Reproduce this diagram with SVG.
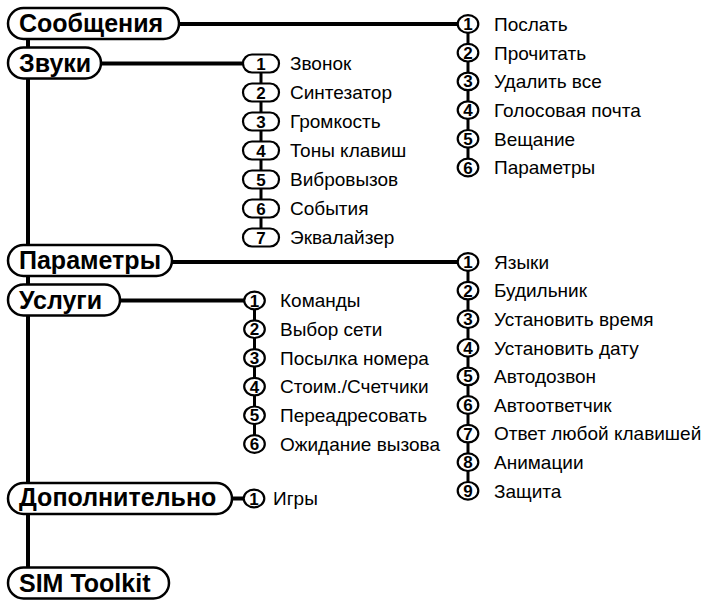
<svg xmlns="http://www.w3.org/2000/svg" width="706" height="600" viewBox="0 0 706 600">
<style>
.pill{fill:#fff;stroke:#000;stroke-width:2.5}
.c{fill:#fff;stroke:#000;stroke-width:2.2}
.conn{stroke:#000;stroke-width:4;fill:none}
.v{stroke:#000;stroke-width:3;fill:none}
.h{font-family:"Liberation Sans",Arial,sans-serif;font-weight:bold;font-size:25px;fill:#000}
.n{font-family:"Liberation Sans",Arial,sans-serif;font-weight:bold;font-size:17px;text-anchor:middle;fill:#000}
.l{font-family:"Liberation Sans",Arial,sans-serif;font-size:19px;fill:#000}
</style>
<rect width="706" height="600" fill="#fff"/>
<g id="connectors">
<path class="conn" d="M28 40V568"/>
<path class="conn" d="M179 24H459"/>
<path class="conn" d="M101 63.5H243"/>
<path class="conn" d="M172 262H459"/>
<path class="conn" d="M120 300.5H245"/>
<path class="conn" d="M231 498.5H245"/>
<path class="v" d="M468 24V167.5"/>
<path class="v" d="M261 63.5V237.5"/>
<path class="v" d="M468 262V490.8"/>
<path class="v" d="M254.5 300.5V444"/>
</g>
<g id="soobshcheniya">
<rect class="pill" x="8" y="8" width="171" height="31" rx="15.5"/>
<text class="h" x="19" y="32">Сообщения</text>
</g>
<g id="zvuki">
<rect class="pill" x="8" y="47.5" width="93" height="31" rx="15.5"/>
<text class="h" x="19" y="71.5">Звуки</text>
</g>
<g id="parametry">
<rect class="pill" x="8" y="245" width="164" height="31" rx="15.5"/>
<text class="h" x="19" y="269">Параметры</text>
</g>
<g id="uslugi">
<rect class="pill" x="8" y="284.5" width="112" height="31" rx="15.5"/>
<text class="h" x="19" y="308.5">Услуги</text>
</g>
<g id="dopolnitelno">
<rect class="pill" x="8" y="483" width="224" height="31" rx="15.5"/>
<text class="h" x="19" y="506">Дополнительно</text>
</g>
<g id="simtoolkit">
<rect class="pill" x="8" y="567.5" width="161" height="31" rx="15.5"/>
<text class="h" x="19" y="591.5">SIM Toolkit</text>
</g>
<g id="soobshcheniya-items">
<ellipse class="c" cx="468" cy="24" rx="10.3" ry="8.8"/><text class="n" x="468" y="30">1</text><text class="l" x="494" y="30.8">Послать</text>
<ellipse class="c" cx="468" cy="52.7" rx="10.3" ry="8.8"/><text class="n" x="468" y="58.7">2</text><text class="l" x="494" y="59.5">Прочитать</text>
<ellipse class="c" cx="468" cy="81.4" rx="10.3" ry="8.8"/><text class="n" x="468" y="87.4">3</text><text class="l" x="494" y="88.2">Удалить все</text>
<ellipse class="c" cx="468" cy="110.1" rx="10.3" ry="8.8"/><text class="n" x="468" y="116.1">4</text><text class="l" x="494" y="116.9">Голосовая почта</text>
<ellipse class="c" cx="468" cy="138.8" rx="10.3" ry="8.8"/><text class="n" x="468" y="144.8">5</text><text class="l" x="494" y="145.6">Вещание</text>
<ellipse class="c" cx="468" cy="167.5" rx="10.3" ry="8.8"/><text class="n" x="468" y="173.5">6</text><text class="l" x="494" y="174.3">Параметры</text>
</g>
<g id="zvuki-items">
<rect class="c" x="243" y="54.5" width="36" height="18" rx="9"/><text class="n" x="261" y="69.5">1</text><text class="l" x="290" y="70.3">Звонок</text>
<rect class="c" x="243" y="83.5" width="36" height="18" rx="9"/><text class="n" x="261" y="98.5">2</text><text class="l" x="290" y="99.3">Синтезатор</text>
<rect class="c" x="243" y="112.5" width="36" height="18" rx="9"/><text class="n" x="261" y="127.5">3</text><text class="l" x="290" y="128.3">Громкость</text>
<rect class="c" x="243" y="141.5" width="36" height="18" rx="9"/><text class="n" x="261" y="156.5">4</text><text class="l" x="290" y="157.3">Тоны клавиш</text>
<rect class="c" x="243" y="170.5" width="36" height="18" rx="9"/><text class="n" x="261" y="185.5">5</text><text class="l" x="290" y="186.3">Вибровызов</text>
<rect class="c" x="243" y="199.5" width="36" height="18" rx="9"/><text class="n" x="261" y="214.5">6</text><text class="l" x="290" y="215.3">События</text>
<rect class="c" x="243" y="228.5" width="36" height="18" rx="9"/><text class="n" x="261" y="243.5">7</text><text class="l" x="290" y="244.3">Эквалайзер</text>
</g>
<g id="parametry-items">
<ellipse class="c" cx="468" cy="262" rx="10.3" ry="8.8"/><text class="n" x="468" y="268">1</text><text class="l" x="494" y="268.8">Языки</text>
<ellipse class="c" cx="468" cy="290.6" rx="10.3" ry="8.8"/><text class="n" x="468" y="296.6">2</text><text class="l" x="494" y="297.4">Будильник</text>
<ellipse class="c" cx="468" cy="319.2" rx="10.3" ry="8.8"/><text class="n" x="468" y="325.2">3</text><text class="l" x="494" y="326">Установить время</text>
<ellipse class="c" cx="468" cy="347.8" rx="10.3" ry="8.8"/><text class="n" x="468" y="353.8">4</text><text class="l" x="494" y="354.6">Установить дату</text>
<ellipse class="c" cx="468" cy="376.4" rx="10.3" ry="8.8"/><text class="n" x="468" y="382.4">5</text><text class="l" x="494" y="383.2">Автодозвон</text>
<ellipse class="c" cx="468" cy="405" rx="10.3" ry="8.8"/><text class="n" x="468" y="411">6</text><text class="l" x="494" y="411.8">Автоответчик</text>
<ellipse class="c" cx="468" cy="433.6" rx="10.3" ry="8.8"/><text class="n" x="468" y="439.6">7</text><text class="l" x="494" y="440.4">Ответ любой клавишей</text>
<ellipse class="c" cx="468" cy="462.2" rx="10.3" ry="8.8"/><text class="n" x="468" y="468.2">8</text><text class="l" x="494" y="469">Анимации</text>
<ellipse class="c" cx="468" cy="490.8" rx="10.3" ry="8.8"/><text class="n" x="468" y="496.8">9</text><text class="l" x="494" y="497.6">Защита</text>
</g>
<g id="uslugi-items">
<ellipse class="c" cx="254.5" cy="300.5" rx="10.3" ry="8.8"/><text class="n" x="254.5" y="306.5">1</text><text class="l" x="280" y="307.3">Команды</text>
<ellipse class="c" cx="254.5" cy="329.2" rx="10.3" ry="8.8"/><text class="n" x="254.5" y="335.2">2</text><text class="l" x="280" y="336">Выбор сети</text>
<ellipse class="c" cx="254.5" cy="357.9" rx="10.3" ry="8.8"/><text class="n" x="254.5" y="363.9">3</text><text class="l" x="280" y="364.7">Посылка номера</text>
<ellipse class="c" cx="254.5" cy="386.6" rx="10.3" ry="8.8"/><text class="n" x="254.5" y="392.6">4</text><text class="l" x="280" y="393.4">Стоим./Счетчики</text>
<ellipse class="c" cx="254.5" cy="415.3" rx="10.3" ry="8.8"/><text class="n" x="254.5" y="421.3">5</text><text class="l" x="280" y="422.1">Переадресовать</text>
<ellipse class="c" cx="254.5" cy="444" rx="10.3" ry="8.8"/><text class="n" x="254.5" y="450">6</text><text class="l" x="280" y="450.8">Ожидание вызова</text>
</g>
<g id="dopolnitelno-items">
<ellipse class="c" cx="254" cy="498.5" rx="10.3" ry="8.8"/><text class="n" x="254" y="504.5">1</text><text class="l" x="273" y="505.3">Игры</text>
</g>
</svg>
